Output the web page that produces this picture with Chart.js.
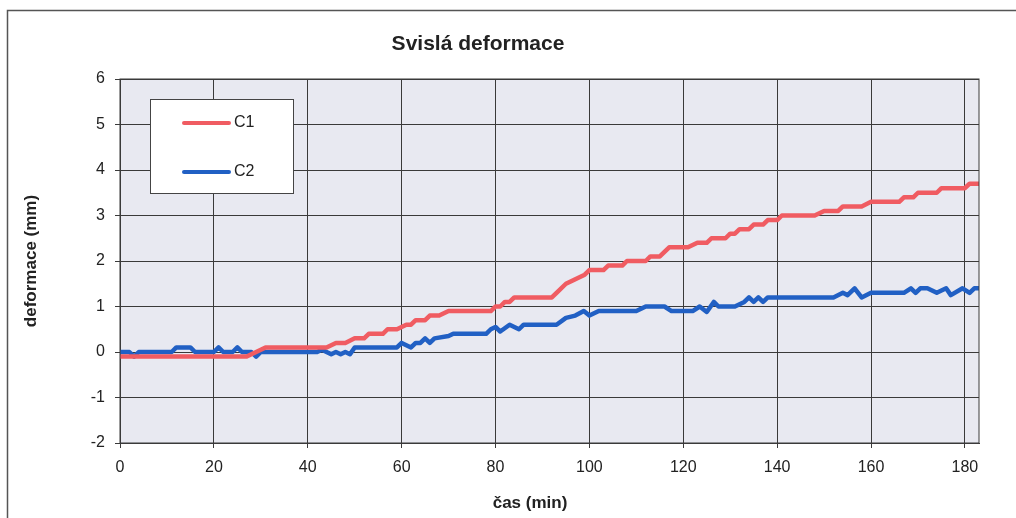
<!DOCTYPE html>
<html lang="cs">
<head>
  <meta charset="UTF-8">
  <title>Svislá deformace</title>
  <script src="https://cdn.jsdelivr.net/npm/chart.js"></script>
  <style>
    body {
      margin: 0;
      background: #ffffff;
      overflow: hidden;
    }

    .chart-container {
      width: 1016px;
      height: 518px;
    }
  </style>
</head>
<body>

  <div class="chart-container">
    <canvas id="deformaceChart"></canvas>
  </div>

  <script>
    // time (min) and deformation (mm)
    const c1Time = [0, 5, 10, 15, 20, 25, 27, 29, 31, 35, 40, 44, 46, 48, 50, 52, 53, 56, 57, 59, 61, 62, 63, 65, 66, 68,
      70, 79, 80, 81, 82, 83, 84, 92, 93, 95, 97, 99, 100, 103, 104, 107, 108, 112, 113, 115, 116, 117, 121, 123, 125,
      126, 129, 130, 131, 132, 134, 135, 137, 138, 140, 141, 148, 150, 153, 154, 158, 160, 166, 167, 169, 170, 174,
      175, 180, 181, 183];
    const c1Val = [-0.1, -0.1, -0.1, -0.1, -0.1, -0.1, -0.1, 0, 0.1, 0.1, 0.1, 0.1, 0.2, 0.2, 0.3, 0.3, 0.4, 0.4, 0.5, 0.5,
      0.6, 0.6, 0.7, 0.7, 0.8, 0.8, 0.9, 0.9, 1.0, 1.0, 1.1, 1.1, 1.2, 1.2, 1.3, 1.5, 1.6, 1.7, 1.8, 1.8, 1.9, 1.9, 2.0,
      2.0, 2.1, 2.1, 2.2, 2.3, 2.3, 2.4, 2.4, 2.5, 2.5, 2.6, 2.6, 2.7, 2.7, 2.8, 2.8, 2.9, 2.9, 3.0, 3.0, 3.1, 3.1, 3.2,
      3.2, 3.3, 3.3, 3.4, 3.4, 3.5, 3.5, 3.6, 3.6, 3.7, 3.7];

    const c2Time = [0, 2, 3, 4, 11, 12, 15, 16, 20, 21, 22, 24, 25, 26, 28, 29, 30, 42, 43, 44, 45, 46, 47, 48, 49, 50,
      59, 60, 61, 62, 63, 64, 65, 66, 67, 70, 71, 78, 79, 80, 81, 83, 85, 86, 93, 95, 97, 98.8, 100, 102, 110, 112,
      116, 117.5, 122, 123.5, 125, 126.5, 127.5, 131, 133, 134, 135, 136, 137, 138, 152, 154, 155, 156.5, 158, 160,
      167, 168.5, 169.5, 170.5, 172, 174, 176, 177, 179.5, 181, 182, 183];
    const c2Val = [0, 0, -0.1, 0, 0, 0.1, 0.1, 0, 0, 0.1, 0, 0, 0.1, 0, 0, -0.1, 0, 0, 0.05, 0, -0.05, 0, -0.05, 0, -0.05,
      0.1, 0.1, 0.2, 0.15, 0.1, 0.2, 0.2, 0.3, 0.2, 0.3, 0.35, 0.4, 0.4, 0.5, 0.55, 0.45, 0.6, 0.5, 0.6, 0.6, 0.75, 0.8,
      0.9, 0.8, 0.9, 0.9, 1.0, 1.0, 0.9, 0.9, 1.0, 0.88, 1.1, 1.0, 1.0, 1.1, 1.2, 1.1, 1.2, 1.1, 1.2, 1.2, 1.3, 1.25,
      1.4, 1.2, 1.3, 1.3, 1.4, 1.3, 1.4, 1.4, 1.3, 1.4, 1.25, 1.4, 1.3, 1.4, 1.4];

    const yTicks = [-2, -1, 0, 1, 2, 3, 4, 5, 6];
    const xTicks = [0, 20, 40, 60, 80, 100, 120, 140, 160, 180];

    const toPoints = (xs, ys) => xs.map((x, i) => ({ x: x, y: ys[i] }));

    const excelLook = {
      id: 'excelLook',
      beforeDraw(chart) {
        const ctx = chart.ctx;
        const a = chart.chartArea;
        ctx.save();
        ctx.fillStyle = '#ffffff';
        ctx.fillRect(0, 0, chart.width, chart.height);
        ctx.strokeStyle = '#555';
        ctx.lineWidth = 1.5;
        ctx.strokeRect(7.5, 10.5, 1040, 540);
        ctx.fillStyle = '#e8e9f1';
        ctx.fillRect(a.left, a.top, a.right - a.left, a.bottom - a.top);
        ctx.restore();
      },
      afterDraw(chart) {
        const ctx = chart.ctx;
        const a = chart.chartArea;
        ctx.save();
        ctx.strokeStyle = '#3a3a3a';
        ctx.lineWidth = 1;
        ctx.strokeRect(a.left, a.top, a.right - a.left, a.bottom - a.top);

        // title and x axis title
        ctx.fillStyle = '#222';
        ctx.textAlign = 'center';
        ctx.textBaseline = 'middle';
        ctx.font = 'bold 21px "Liberation Sans", Arial, sans-serif';
        ctx.fillText('Svislá deformace', 478, 44);
        ctx.font = 'bold 17px "Liberation Sans", Arial, sans-serif';
        ctx.fillText('čas (min)', 530, 503);

        // legend box inside the plot
        ctx.fillStyle = '#ffffff';
        ctx.fillRect(150, 99, 144, 95);
        ctx.strokeStyle = '#444';
        ctx.strokeRect(150.5, 99.5, 143, 94);
        const rows = [123, 172];
        chart.data.datasets.forEach((ds, i) => {
          ctx.strokeStyle = ds.borderColor;
          ctx.lineWidth = 4;
          ctx.lineCap = 'round';
          ctx.beginPath();
          ctx.moveTo(184, rows[i]);
          ctx.lineTo(229, rows[i]);
          ctx.stroke();
          ctx.fillStyle = '#222';
          ctx.font = '16px "Liberation Sans", Arial, sans-serif';
          ctx.textAlign = 'left';
          ctx.fillText(ds.label, 234, rows[i]);
        });
        ctx.restore();
      }
    };

    new Chart(document.getElementById('deformaceChart'), {
      type: 'line',
      data: {
        datasets: [
          {
            label: 'C1',
            data: toPoints(c1Time, c1Val),
            borderColor: '#f05c62',
            borderWidth: 4.5,
            pointRadius: 0,
            tension: 0,
            borderJoinStyle: 'round'
          },
          {
            label: 'C2',
            data: toPoints(c2Time, c2Val),
            borderColor: '#2160c4',
            borderWidth: 4.5,
            pointRadius: 0,
            tension: 0,
            borderJoinStyle: 'round'
          }
        ]
      },
      options: {
        responsive: true,
        maintainAspectRatio: false,
        animation: false,
        layout: {
          padding: { top: 79, right: 37, left: 0, bottom: 0 }
        },
        plugins: {
          legend: { display: false },
          title: { display: false },
          tooltip: { enabled: false }
        },
        scales: {
          x: {
            type: 'linear',
            min: 0,
            max: 183,
            afterFit: (scale) => { scale.height = 75; },
            afterBuildTicks: (scale) => { scale.ticks = xTicks.map(v => ({ value: v })); },
            ticks: {
              color: '#222',
              padding: 10,
              maxRotation: 0,
              font: { family: '"Liberation Sans", Arial, sans-serif', size: 16 }
            },
            grid: { color: '#3a3a3a', tickLength: 5, tickColor: '#3a3a3a' },
            border: { color: '#3a3a3a' }
          },
          y: {
            min: -2,
            max: 6,
            afterFit: (scale) => { scale.width = 120; },
            afterBuildTicks: (scale) => { scale.ticks = yTicks.map(v => ({ value: v })); },
            ticks: {
              color: '#222',
              padding: 10,
              font: { family: '"Liberation Sans", Arial, sans-serif', size: 16 }
            },
            grid: { color: '#3a3a3a', tickLength: 5, tickColor: '#3a3a3a' },
            border: { color: '#3a3a3a' },
            title: {
              display: true,
              text: 'deformace (mm)',
              color: '#222',
              padding: { top: 21, bottom: 0 },
              font: { family: '"Liberation Sans", Arial, sans-serif', size: 17, weight: 'bold' }
            }
          }
        }
      },
      plugins: [excelLook]
    });
  </script>

</body>
</html>
